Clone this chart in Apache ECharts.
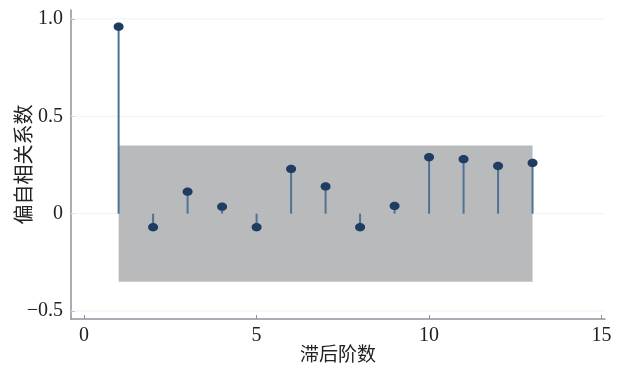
<!DOCTYPE html>
<html><head><meta charset="utf-8">
<script src="https://cdn.jsdelivr.net/npm/echarts@6/dist/echarts.min.js"></script>
<style>html,body{margin:0;padding:0;background:#fff}#c{width:617px;height:367px}</style>
</head><body><div id="c"></div>
<script>
const lags = [1,2,3,4,5,6,7,8,9,10,11,12,13];
const pacf = [0.96,-0.07,0.113,0.036,-0.07,0.23,0.14,-0.07,0.04,0.29,0.28,0.245,0.26];
const confBound = 0.35;
const xTicks = [0,5,10,15];
const yTicks = [-0.5,0,0.5,1.0];
const xName = '滞后阶数';
const yName = '偏自相关系数';

const chart = echarts.init(document.getElementById('c'));
const serif = '"Liberation Serif","Times New Roman",serif';
const cjk = '"Noto Sans CJK SC",sans-serif';
const xMin = -0.38, xMax = 15.1;
chart.setOption({
  animation:false,
  grid:{left:71,right:12,top:10,bottom:48,outerBoundsMode:'none',containLabel:false},
  xAxis:{type:'value',min:xMin,max:xMax,
    name:xName,nameLocation:'middle',nameGap:25,nameMoveOverlap:false,
    nameTextStyle:{fontFamily:cjk,fontSize:19,color:'#222'},
    axisLine:{show:true,onZero:false,lineStyle:{color:'#8c939b',width:1.5}},
    axisTick:{show:true,inside:true,length:4,customValues:xTicks,lineStyle:{color:'#8c939b'}},
    axisLabel:{customValues:xTicks,fontFamily:serif,fontSize:20,color:'#222',margin:7},
    splitLine:{show:false}},
  yAxis:{type:'value',min:-0.541,max:1.046,
    name:yName,nameLocation:'middle',nameGap:38,nameRotate:90,nameMoveOverlap:false,
    nameTextStyle:{fontFamily:cjk,fontSize:20,color:'#222'},
    axisLine:{show:true,onZero:false,lineStyle:{color:'#8c939b',width:1.5}},
    axisTick:{show:true,inside:true,length:4,customValues:yTicks,lineStyle:{color:'#8c939b'}},
    axisLabel:{customValues:yTicks,fontFamily:serif,fontSize:20,color:'#222',margin:8,
      formatter:v=>{if(Math.abs(v)<1e-9)return '0';const s=Math.abs(v).toFixed(1);return (v<0?'\u2212':'')+s;}},
    splitLine:{show:false}},
  series:[{
    type:'custom',z:1,silent:true,
    data:yTicks.map(v=>[v]),
    renderItem:(params,api)=>{
      const a=api.coord([xMin,api.value(0)]);
      const b=api.coord([xMax,api.value(0)]);
      return {type:'line',shape:{x1:a[0],y1:a[1],x2:b[0],y2:b[1]},style:{stroke:'#f1f1f1',lineWidth:1}};
    }
  },{
    type:'custom',z:2,silent:true,
    data:[[lags[0],-confBound,lags[lags.length-1],confBound]],
    renderItem:(params,api)=>{
      const a=api.coord([api.value(0),api.value(3)]);
      const b=api.coord([api.value(2),api.value(1)]);
      return {type:'rect',shape:{x:a[0],y:a[1],width:b[0]-a[0],height:b[1]-a[1]},style:{fill:'#b9babc'}};
    }
  },{
    type:'custom',z:3,
    data:lags.map((l,i)=>[l,pacf[i]]),
    renderItem:(params,api)=>{
      const p0=api.coord([api.value(0),0]);
      const p1=api.coord([api.value(0),api.value(1)]);
      return {type:'group',children:[
        {type:'line',shape:{x1:p0[0],y1:p0[1],x2:p1[0],y2:p1[1]},style:{stroke:'#4f7394',lineWidth:2}},
        {type:'ellipse',shape:{cx:p1[0],cy:p1[1],rx:5,ry:4.2},style:{fill:'#1e3d61'}}
      ]};
    }
  }]
});
</script></body></html>
